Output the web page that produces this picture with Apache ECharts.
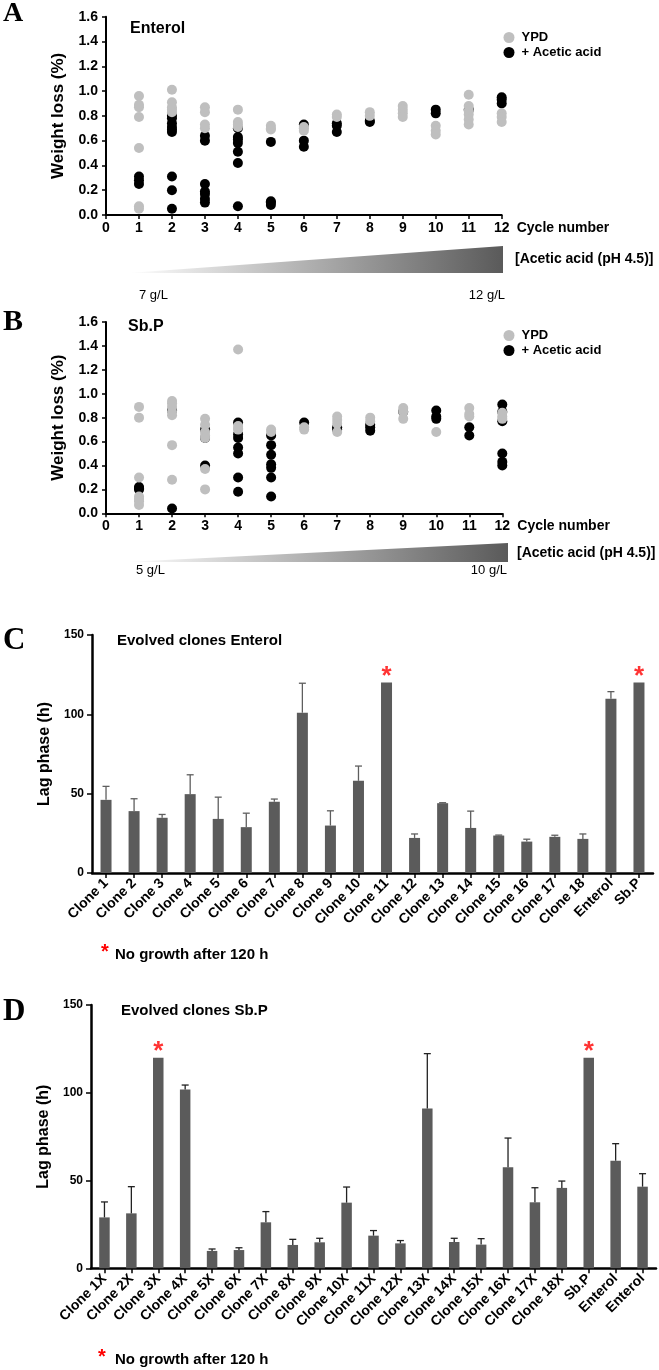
<!DOCTYPE html>
<html>
<head>
<meta charset="utf-8">
<script src="https://cdn.jsdelivr.net/npm/echarts@6/dist/echarts.min.js"></script>
<style>
  html, body { margin: 0; padding: 0; background: #fff; }
  #chart { width: 659px; height: 1370px; }
</style>
</head>
<body>
<div id="chart"></div>
<script>
// ---- data ----
// A: Enterol, weight loss (%) per cycle
const enterolYPD = [
  [1, 0.96], [1, 0.89], [1, 0.87], [1, 0.79], [1, 0.54], [1, 0.07], [1, 0.05],
  [2, 1.01], [2, 0.91], [2, 0.87], [2, 0.85], [2, 0.83],
  [3, 0.87], [3, 0.83], [3, 0.73], [3, 0.70],
  [4, 0.85], [4, 0.75], [4, 0.73], [4, 0.71],
  [5, 0.72], [5, 0.70], [5, 0.69],
  [6, 0.71], [6, 0.70], [6, 0.68],
  [7, 0.81], [7, 0.79],
  [8, 0.83], [8, 0.80],
  [9, 0.88], [9, 0.85], [9, 0.82], [9, 0.79],
  [10, 0.72], [10, 0.68], [10, 0.65],
  [11, 0.97], [11, 0.88], [11, 0.84], [11, 0.81], [11, 0.77], [11, 0.73],
  [12, 0.82], [12, 0.79], [12, 0.75]
];
const enterolAcid = [
  [1, 0.31], [1, 0.28], [1, 0.25],
  [2, 0.80], [2, 0.78], [2, 0.74], [2, 0.71], [2, 0.69], [2, 0.67], [2, 0.31], [2, 0.20], [2, 0.05],
  [3, 0.64], [3, 0.60], [3, 0.25], [3, 0.19], [3, 0.17], [3, 0.13], [3, 0.10],
  [4, 0.70], [4, 0.63], [4, 0.61], [4, 0.58], [4, 0.51], [4, 0.42], [4, 0.07],
  [5, 0.59], [5, 0.11], [5, 0.10], [5, 0.08],
  [6, 0.73], [6, 0.60], [6, 0.55],
  [7, 0.74], [7, 0.72], [7, 0.67],
  [8, 0.76], [8, 0.75],
  [10, 0.85], [10, 0.82],
  [11, 0.85],
  [12, 0.95], [12, 0.93], [12, 0.90]
];
// B: Sb.P
const sbpYPD = [
  [1, 0.89], [1, 0.80], [1, 0.30], [1, 0.14], [1, 0.12], [1, 0.10], [1, 0.07],
  [2, 0.94], [2, 0.92], [2, 0.89], [2, 0.85], [2, 0.82], [2, 0.57], [2, 0.28],
  [3, 0.79], [3, 0.74], [3, 0.68], [3, 0.65], [3, 0.63], [3, 0.37], [3, 0.20],
  [4, 1.37], [4, 0.73], [4, 0.71], [4, 0.70],
  [5, 0.70], [5, 0.68],
  [6, 0.72], [6, 0.70],
  [7, 0.81], [7, 0.78], [7, 0.75], [7, 0.68],
  [8, 0.80], [8, 0.77],
  [9, 0.88], [9, 0.85], [9, 0.79],
  [10, 0.68],
  [11, 0.88], [11, 0.83], [11, 0.81],
  [12, 0.84], [12, 0.81], [12, 0.79]
];
const sbpAcid = [
  [1, 0.22], [1, 0.21], [1, 0.20],
  [2, 0.86], [2, 0.04],
  [3, 0.70], [3, 0.63], [3, 0.40],
  [4, 0.76], [4, 0.66], [4, 0.63], [4, 0.55], [4, 0.50], [4, 0.30], [4, 0.18],
  [5, 0.65], [5, 0.57], [5, 0.49], [5, 0.41], [5, 0.38], [5, 0.30], [5, 0.14],
  [6, 0.76],
  [7, 0.72], [7, 0.70],
  [8, 0.74], [8, 0.72], [8, 0.69],
  [9, 0.85],
  [10, 0.86], [10, 0.81], [10, 0.79],
  [11, 0.72], [11, 0.65],
  [12, 0.91], [12, 0.85], [12, 0.77], [12, 0.50], [12, 0.43], [12, 0.40]
];

// C: evolved clones Enterol, lag phase (h)
const clonesC = ['Clone 1', 'Clone 2', 'Clone 3', 'Clone 4', 'Clone 5', 'Clone 6', 'Clone 7',
  'Clone 8', 'Clone 9', 'Clone 10', 'Clone 11', 'Clone 12', 'Clone 13', 'Clone 14',
  'Clone 15', 'Clone 16', 'Clone 17', 'Clone 18', 'Enterol', 'Sb.P'];
const lagC = [46.1, 39.0, 34.8, 49.7, 34.1, 28.9, 44.9, 101.0, 29.9, 58.1, 120, 22.1, 44.0, 28.4,
  23.6, 19.8, 22.8, 21.5, 109.9, 120];
const errTopC = [54.6, 46.8, 36.9, 61.9, 47.8, 37.7, 46.6, 119.6, 39.2, 67.4, null, 24.6, 44.3, 39.0,
  23.9, 21.3, 23.8, 24.6, 114.3, null];
const noGrowthC = [10, 19];

// D: evolved clones Sb.P
const clonesD = ['Clone 1X', 'Clone 2X', 'Clone 3X', 'Clone 4X', 'Clone 5X', 'Clone 6X', 'Clone 7X',
  'Clone 8X', 'Clone 9X', 'Clone 10X', 'Clone 11X', 'Clone 12X', 'Clone 13X', 'Clone 14X',
  'Clone 15X', 'Clone 16X', 'Clone 17X', 'Clone 18X', 'Sb.P', 'Enterol', 'Enterol'];
const lagD = [29.0, 31.3, 120, 101.8, 9.9, 10.4, 26.2, 13.3, 14.8, 37.4, 18.6, 14.2, 91.1, 15.0,
  13.5, 57.5, 37.6, 45.8, 120, 61.3, 46.5];
const errTopD = [37.8, 46.5, null, 104.4, 11.0, 11.7, 32.3, 16.5, 17.1, 46.3, 21.5, 15.8, 122.3, 17.1,
  16.9, 74.2, 45.9, 49.7, null, 71.0, 53.9];
const noGrowthD = [2, 18];

// ---- styling helpers ----
const FONT = '"Liberation Sans", Arial, Helvetica, sans-serif';
const SERIF = '"Liberation Serif", "Times New Roman", serif';
const GREY = '#bfbfbf';
const BAR = '#5b5b5b';

const chart = echarts.init(document.getElementById('chart'));

function scatterX(gridIndex) {
  return {
    gridIndex, type: 'value', min: 0, max: 12, interval: 1,
    name: 'Cycle number', nameLocation: 'end', nameGap: 15,
    nameTextStyle: { fontFamily: FONT, fontSize: 14, fontWeight: 'bold', color: '#000', verticalAlign: 'top', padding: [6, 0, 0, 0] },
    axisLine: { show: true, lineStyle: { color: '#000', width: 2 } },
    axisTick: { show: true, length: 4, lineStyle: { color: '#000', width: 1.5 } },
    axisLabel: { fontFamily: FONT, fontSize: 14, fontWeight: 'bold', color: '#000', margin: 6 },
    splitLine: { show: false }
  };
}
function scatterY(gridIndex) {
  return {
    gridIndex, type: 'value', min: 0, max: 1.6, interval: 0.2,
    name: 'Weight loss (%)', nameLocation: 'middle', nameGap: 39,
    nameTextStyle: { fontFamily: FONT, fontSize: 17, fontWeight: 'bold', color: '#000' },
    axisLine: { show: true, lineStyle: { color: '#000', width: 2 } },
    axisTick: { show: true, length: 4, lineStyle: { color: '#000', width: 1.5 } },
    axisLabel: { fontFamily: FONT, fontSize: 14, fontWeight: 'bold', color: '#000', margin: 8,
      formatter: v => v.toFixed(1) },
    splitLine: { show: false }
  };
}
function barX(gridIndex, cats) {
  return {
    gridIndex, type: 'category', data: cats,
    axisLine: { show: true, lineStyle: { color: '#000', width: 2.5 } },
    axisTick: { show: true, alignWithLabel: true, length: 5, lineStyle: { color: '#000', width: 1.5 } },
    axisLabel: { interval: 0, rotate: 45, fontFamily: FONT, fontSize: 14, fontWeight: 'bold', color: '#000', margin: 8 }
  };
}
function barY(gridIndex) {
  return {
    gridIndex, type: 'value', min: 0, max: 150, interval: 50,
    name: 'Lag phase (h)', nameLocation: 'middle', nameGap: 34,
    nameTextStyle: { fontFamily: FONT, fontSize: 16, fontWeight: 'bold', color: '#000' },
    axisLine: { show: true, lineStyle: { color: '#000', width: 2.5 } },
    axisTick: { show: true, length: 5, lineStyle: { color: '#000', width: 1.5 } },
    axisLabel: { fontFamily: FONT, fontSize: 12, fontWeight: 'bold', color: '#000', margin: 8 },
    splitLine: { show: false }
  };
}
function dots(name, idx, data, color) {
  return {
    name, type: 'scatter', xAxisIndex: idx, yAxisIndex: idx, data,
    symbolSize: 10, itemStyle: { color, opacity: 1 }
  };
}
function errorBars(idx, means, tops, color) {
  return {
    type: 'custom', xAxisIndex: idx, yAxisIndex: idx, z: 3,
    data: means.map((m, i) => [i, m, tops[i] == null ? NaN : tops[i]]),
    renderItem: (params, api) => {
      const top = api.value(2);
      if (isNaN(top)) return null;
      const lo = api.coord([api.value(0), api.value(1)]);
      const hi = api.coord([api.value(0), top]);
      const st = { stroke: color, lineWidth: 1.3 };
      return {
        type: 'group', children: [
          { type: 'line', shape: { x1: lo[0], y1: lo[1], x2: hi[0], y2: hi[1] }, style: st },
          { type: 'line', shape: { x1: hi[0] - 3.5, y1: hi[1], x2: hi[0] + 3.5, y2: hi[1] }, style: st }
        ]
      };
    }
  };
}
function stars(idx, cats, means) {
  return {
    type: 'scatter', xAxisIndex: idx, yAxisIndex: idx, z: 4,
    data: cats.map(i => [i, means[i]]),
    symbolSize: 1, itemStyle: { color: 'rgba(0,0,0,0)' },
    label: { show: true, formatter: '*', position: 'inside', offset: [0, -6],
      fontFamily: FONT, fontSize: 26, fontWeight: 'bold', color: '#ff0000' }
  };
}
function txt(x, y, text, size, opts) {
  return {
    type: 'text', x, y, silent: true,
    style: Object.assign({
      text, fill: '#000', fontFamily: FONT, fontSize: size, fontWeight: 'bold',
      textAlign: 'left', textVerticalAlign: 'middle', align: 'left', verticalAlign: 'middle'
    }, opts || {})
  };
}
function wedge(x0, x1, yTop, yBot) {
  return {
    type: 'polygon', silent: true,
    shape: { points: [[x0, yBot], [x1, yTop], [x1, yBot]] },
    style: { fill: new echarts.graphic.LinearGradient(0, 0, 1, 0, [
      { offset: 0, color: '#ffffff' }, { offset: 1, color: '#5a5a5a' }
    ]) }
  };
}

const legendBase = {
  data: ['YPD', '+ Acetic acid'], orient: 'vertical', icon: 'circle',
  itemWidth: 11, itemHeight: 11, itemGap: 2, selectedMode: false,
  textStyle: { fontFamily: FONT, fontSize: 13, fontWeight: 'bold', color: '#000', padding: [0, 0, 0, 2] }
};

const option = {
  animation: false,
  backgroundColor: '#fff',
  grid: [
    { left: 106, top: 16.7, width: 395.7, height: 198.3 },
    { left: 106, top: 322, width: 396.3, height: 191.3 },
    { left: 92, top: 635, width: 561, height: 238 },
    { left: 91, top: 1005, width: 565, height: 263.3 }
  ],
  legend: [
    Object.assign({ left: 498.5, top: 26 }, legendBase),
    Object.assign({ left: 498.5, top: 324 }, legendBase)
  ],
  xAxis: [scatterX(0), scatterX(1), barX(2, clonesC), barX(3, clonesD)],
  yAxis: [scatterY(0), scatterY(1), barY(2), barY(3)],
  series: [
    dots('+ Acetic acid', 0, enterolAcid, '#000'),
    dots('YPD', 0, enterolYPD, GREY),
    dots('+ Acetic acid', 1, sbpAcid, '#000'),
    dots('YPD', 1, sbpYPD, GREY),
    { type: 'bar', xAxisIndex: 2, yAxisIndex: 2, data: lagC, barWidth: 11, itemStyle: { color: BAR } },
    errorBars(2, lagC, errTopC, '#5e5e5e'),
    stars(2, noGrowthC, lagC),
    { type: 'bar', xAxisIndex: 3, yAxisIndex: 3, data: lagD, barWidth: 10.5, itemStyle: { color: BAR } },
    errorBars(3, lagD, errTopD, '#222'),
    stars(3, noGrowthD, lagD)
  ],
  graphic: [
    // panel letters
    txt(3, 14, 'A', 28, { fontFamily: SERIF }),
    txt(3, 322, 'B', 30, { fontFamily: SERIF }),
    txt(3, 641, 'C', 31, { fontFamily: SERIF }),
    txt(3, 1012, 'D', 31, { fontFamily: SERIF }),
    // panel titles
    txt(130, 28.5, 'Enterol', 16),
    txt(128, 327, 'Sb.P', 16),
    txt(117, 641, 'Evolved clones Enterol', 15),
    txt(121, 1011, 'Evolved clones Sb.P', 15),
    // acetic acid gradients
    wedge(128, 503, 246, 273),
    txt(515, 259, '[Acetic acid (pH 4.5)]', 14),
    txt(139, 295, '7 g/L', 13, { fontWeight: 'normal' }),
    txt(505, 295, '12 g/L', 13, { fontWeight: 'normal', textAlign: 'right', align: 'right' }),
    wedge(125, 508, 543, 562),
    txt(517, 553, '[Acetic acid (pH 4.5)]', 14),
    txt(136, 570, '5 g/L', 13, { fontWeight: 'normal' }),
    txt(507, 570, '10 g/L', 13, { fontWeight: 'normal', textAlign: 'right', align: 'right' }),
    // footnotes
    txt(101, 952, '*', 20, { fill: '#ff0000' }),
    txt(115, 955, 'No growth after 120 h', 15),
    txt(98, 1357, '*', 20, { fill: '#ff0000' }),
    txt(115, 1360, 'No growth after 120 h', 15)
  ]
};

chart.setOption(option);
window.addEventListener('resize', () => chart.resize());
</script>
</body>
</html>
